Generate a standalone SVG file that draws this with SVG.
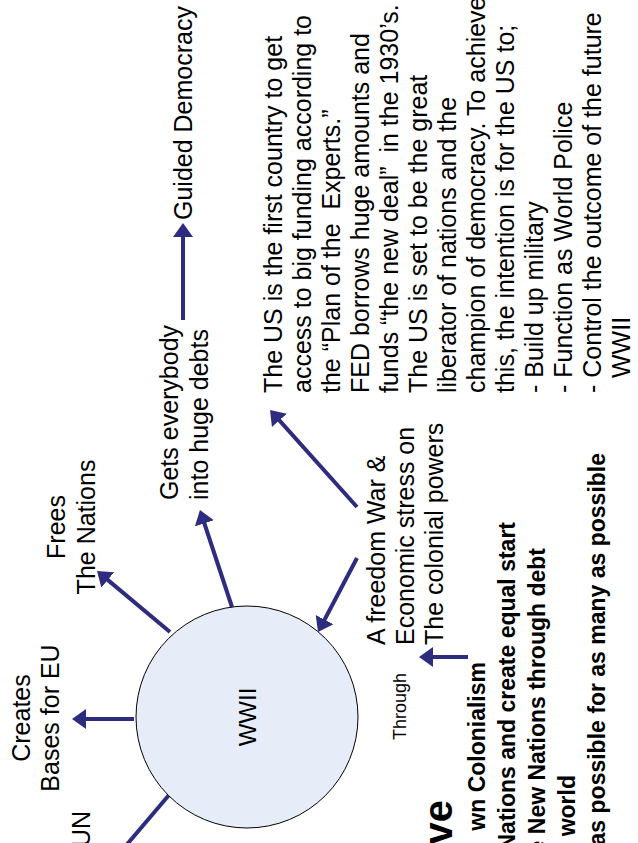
<svg xmlns="http://www.w3.org/2000/svg" width="638" height="843" viewBox="0 0 638 843">
<style>
.t{font-family:"Liberation Sans",Arial,sans-serif;font-size:25px;fill:#000}
.b{font-weight:bold;font-size:23px}
.s{font-size:18px}
.p{white-space:pre}
.conn line{stroke:#2D2C7E;stroke-width:4;fill:none}
</style>
<defs>
<marker id="ah" markerUnits="userSpaceOnUse" markerWidth="14" markerHeight="20" viewBox="0 0 14 20" refX="4" refY="10" orient="auto">
<path d="M0,0 L14,10 L0,20 Z" fill="#2D2C7E"/>
</marker>
</defs>
<rect width="638" height="843" fill="#fff"/>
<g id="connectors" class="conn">
<line x1="134" y1="719" x2="82" y2="719" marker-end="url(#ah)"/>
<line x1="169" y1="795" x2="112" y2="862" marker-end="url(#ah)"/>
<line x1="170" y1="632" x2="104.7" y2="577.4" marker-end="url(#ah)"/>
<line x1="232" y1="607" x2="203.1" y2="519.5" marker-end="url(#ah)"/>
<line x1="183" y1="320" x2="183" y2="233" marker-end="url(#ah)"/>
<line x1="357" y1="558" x2="322.7" y2="623.2" marker-end="url(#ah)"/>
<line x1="357" y1="507" x2="276.7" y2="417.4" marker-end="url(#ah)"/>
<line x1="468" y1="657" x2="429" y2="657" marker-end="url(#ah)"/>
</g>
<g id="n-wwii">
<circle cx="247" cy="717" r="111" fill="#E6EDF8" stroke="#000" stroke-width="1"/>
<text class="t" font-size="24" style="font-size:24px" transform="rotate(-90)" x="-717" y="256" text-anchor="middle">WWII</text>
</g>
<g id="n-eu">
<text class="t" transform="rotate(-90)" text-anchor="middle"><tspan x="-718" y="30">Creates</tspan><tspan x="-718" y="59">Bases for EU</tspan></text>
</g>
<g id="n-un">
<text class="t" transform="rotate(-90)" x="-811" y="90" text-anchor="end">UN</text>
</g>
<g id="n-frees">
<text class="t" transform="rotate(-90)" text-anchor="middle"><tspan x="-527" y="65">Frees</tspan><tspan x="-527" y="95">The Nations</tspan></text>
</g>
<g id="n-debts">
<text class="t" transform="rotate(-90)"><tspan x="-500" y="178">Gets everybody</tspan><tspan x="-500" y="208">into huge debts</tspan></text>
</g>
<g id="n-guided">
<text class="t" transform="rotate(-90)" x="-220" y="192">Guided Democracy</text>
</g>
<g id="n-freedom">
<text class="t" transform="rotate(-90)"><tspan x="-645" y="385">A freedom War &amp;</tspan><tspan x="-645" y="414">Economic stress on</tspan><tspan x="-645" y="443">The colonial powers</tspan></text>
</g>
<g id="n-through">
<text class="t s" transform="rotate(-90)" x="-740" y="406">Through</text>
</g>
<g id="n-us">
<text class="t p" transform="rotate(-90)"><tspan x="-393" y="282">The US is the first country to get</tspan><tspan x="-393" y="311">access to big funding according to</tspan><tspan x="-393" y="340">the “Plan of the  Experts.”</tspan><tspan x="-393" y="369">FED borrows huge amounts and</tspan><tspan x="-393" y="398">funds “the new deal”  in the 1930’s.</tspan><tspan x="-393" y="427">The US is set to be the great</tspan><tspan x="-393" y="456">liberator of nations and the</tspan><tspan x="-393" y="485">champion of democracy. To achieve</tspan><tspan x="-393" y="514">this, the intention is for the US to;</tspan><tspan x="-393" y="543">- Build up military</tspan><tspan x="-393" y="572">- Function as World Police</tspan><tspan x="-393" y="601">- Control the outcome of the future</tspan><tspan x="-378" y="630">WWII</tspan></text>
</g>
<g id="n-objective">
<text class="t b" style="font-size:40px" transform="rotate(-90)" x="-800" y="452" text-anchor="end">ve</text>
<text class="t b" transform="rotate(-90)" text-anchor="end"><tspan x="-662" y="485">wn Colonialism</tspan><tspan x="-522" y="515">Nations and create equal start</tspan><tspan x="-548" y="545">he New Nations through debt</tspan><tspan x="-775" y="575">world</tspan><tspan x="-453" y="605">as possible for as many as possible</tspan></text>
</g>
</svg>
